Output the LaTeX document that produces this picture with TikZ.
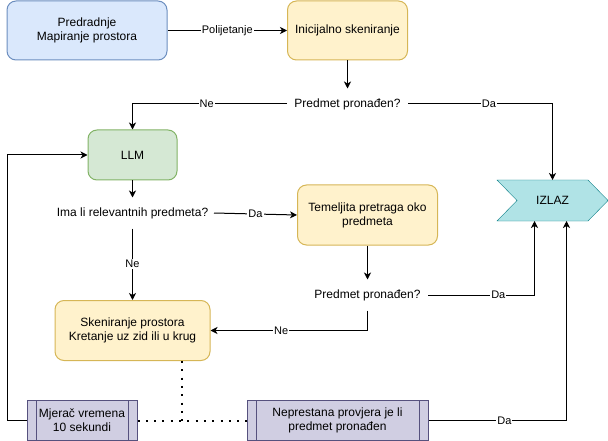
\documentclass[tikz,border=0pt]{standalone}
\usepackage{fontspec}
\setmainfont{Liberation Sans}
\usetikzlibrary{arrows.meta,backgrounds}

\definecolor{blueF}{HTML}{DAE8FC}\definecolor{blueD}{HTML}{6C8EBF}
\definecolor{yelF}{HTML}{FFF2CC}\definecolor{yelD}{HTML}{D6B656}
\definecolor{grnF}{HTML}{D5E8D4}\definecolor{grnD}{HTML}{82B366}
\definecolor{purF}{HTML}{D0CEE2}\definecolor{purD}{HTML}{56517E}
\definecolor{cyaF}{HTML}{B0E3E6}\definecolor{cyaD}{HTML}{0E8088}

\begin{document}
\begin{tikzpicture}[x=1pt, y=-1pt, line width=1pt,
    font=\fontsize{12}{14}\selectfont,
    box/.style={draw, rounded corners=9, align=center, inner sep=0},
    proc/.style={draw=purD, fill=purF, align=center, inner sep=0, minimum height=40,
        path picture={
            \draw[purD] ([xshift=9]path picture bounding box.north west) -- ([xshift=9]path picture bounding box.south west);
            \draw[purD] ([xshift=-9]path picture bounding box.north east) -- ([xshift=-9]path picture bounding box.south east);}},
    txt/.style={align=center, inner sep=0, minimum height=30},
    lbl/.style={fill=white, inner sep=1pt, font=\fontsize{11}{13}\selectfont},
    arr/.style={-{Stealth[length=7pt,width=7pt,inset=2pt]}},
    dots/.style={line width=2pt, dash pattern=on 2pt off 6.3pt}]
\useasboundingbox (0,0) rectangle (608,441);

\node[box, draw=blueD, fill=blueF, minimum width=160, minimum height=59] (pre) at (87,30.5) {Predradnje\\Mapiranje prostora};
\node[box, draw=yelD, fill=yelF, minimum width=120, minimum height=59] (ini) at (347.5,30.5) {Inicijalno skeniranje};
\node[txt, minimum width=120] (q1) at (347.5,104) {Predmet pronađen?};
\node[box, draw=grnD, fill=grnF, minimum width=89, minimum height=50] (llm) at (132.5,155) {LLM};
\node[txt, minimum width=162] (ima) at (132.5,213) {Ima li relevantnih predmeta?};
\node[box, draw=yelD, fill=yelF, minimum width=140, minimum height=60] (tem) at (367.5,215) {Temeljita pretraga oko\\predmeta};
\node[txt, minimum width=120] (q2) at (367.5,295) {Predmet pronađen?};
\node[box, draw=yelD, fill=yelF, minimum width=155, minimum height=60] (sken) at (132.5,330.5) {Skeniranje prostora\\Kretanje uz zid ili u krug};
\node[proc, minimum width=110] (mjer) at (82,420.5) {Mjerač vremena\\10 sekundi};
\node[proc, minimum width=181] (nep) at (337.5,420.5) {Neprestana provjera je li\\predmet pronađen};
\node[inner sep=0, minimum width=110, minimum height=40] (izlaz) at (552.5,200.5) {IZLAZ};
\coordinate (jn) at (181.5,420.5);

\begin{scope}[on background layer]
    \draw[cyaD, fill=cyaF] (izlaz.north west) -- ([xshift=-20]izlaz.north east) -- (izlaz.east)
        -- ([xshift=-20]izlaz.south east) -- (izlaz.south west) -- ([xshift=20]izlaz.west) -- cycle;
\end{scope}

\begin{scope}[every path/.style={arr,draw}]
    \draw (pre.east) -- node[lbl] {Polijetanje} (ini.west);
    \draw (ini.south) -- (q1.north);
    \draw (q1.west) -| node[lbl, pos=0.26] {Ne} (llm.north);
    \draw (q1.east) -| node[lbl, pos=0.28] {Da} (izlaz.north);
    \draw (llm.south) -- (ima.north);
    \draw (ima.east) -- node[lbl] {Da} (tem.west);
    \draw (ima.south) -- node[lbl] {Ne} (sken.north);
    \draw (tem.south) -- (q2.north);
    \draw (q2.south) |- node[lbl, pos=0.775] {Ne} (sken.east);
    \draw (q2.east) -| node[lbl, pos=0.33] {Da} ([xshift=-18]izlaz.south);
    \draw (nep.east) -| node[lbl, pos=0.275] {Da} ([xshift=14]izlaz.south);
    \draw (mjer.west) -- ++(-19,0) |- (llm.west);
\end{scope}

\draw[dots] (sken.south -| jn) -- (jn);
\draw[dots] (mjer.east) -- (nep.west);

\end{tikzpicture}
\end{document}
